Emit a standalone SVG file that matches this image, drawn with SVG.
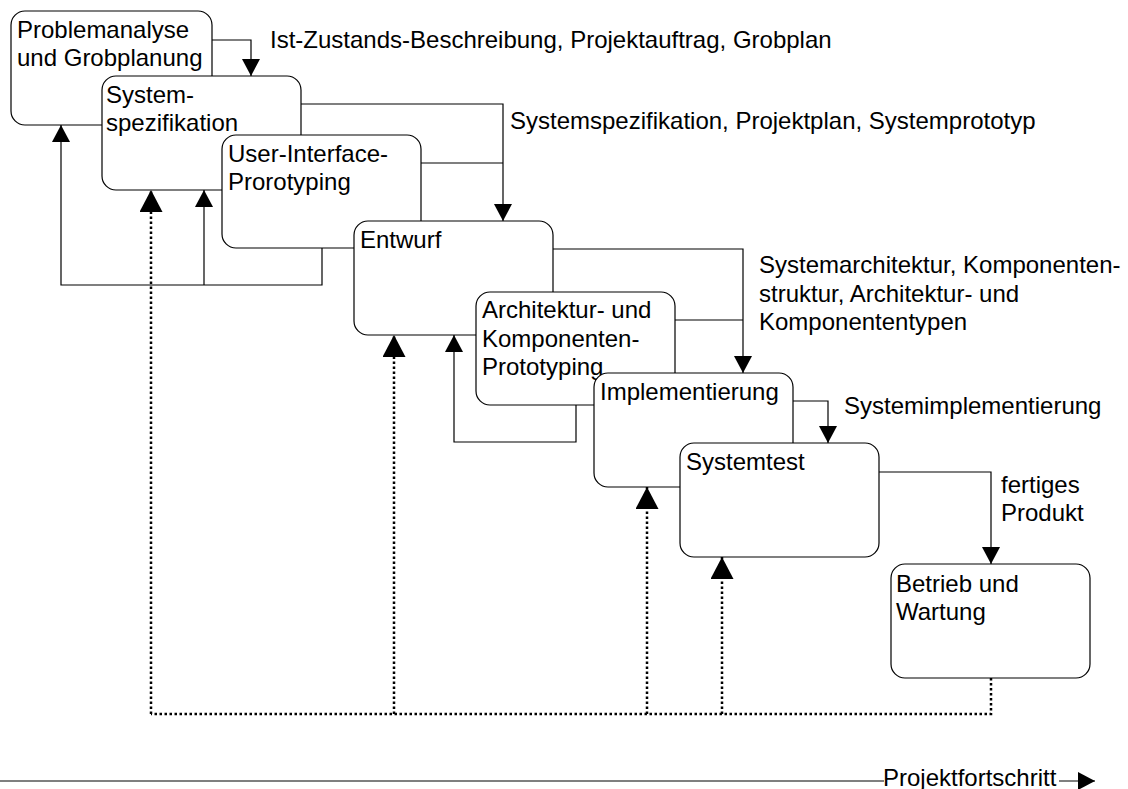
<svg xmlns="http://www.w3.org/2000/svg" width="1128" height="789" viewBox="0 0 1128 789">
<style>
.box{fill:#fff;stroke:#000;stroke-width:1.2}
text{font-family:"Liberation Sans",Arial,sans-serif;font-size:24px;fill:#000}
.ln{fill:none;stroke:#000;stroke-width:1.2}
.dot{fill:none;stroke:#000;stroke-width:2.5;stroke-dasharray:2.5 2.5}
</style>
<defs>
<marker id="arr" markerUnits="userSpaceOnUse" markerWidth="17" markerHeight="18" refX="17" refY="9" orient="auto" viewBox="0 0 17 18">
<path d="M0,0 L17,9 L0,18 Z" fill="#000"/>
</marker>
<marker id="arrBig" markerUnits="userSpaceOnUse" markerWidth="22" markerHeight="23" refX="22" refY="11.5" orient="auto" viewBox="0 0 22 23">
<path d="M0,0 L22,11.5 L0,23 Z" fill="#000"/>
</marker>
</defs>
<rect width="1128" height="789" fill="#fff"/>
<g id="n1"><rect class="box" x="11" y="11" width="201" height="114" rx="14"/><text x="17" y="38">Problemanalyse</text><text x="17" y="66">und Grobplanung</text></g>
<g id="n2"><rect class="box" x="102" y="76" width="199" height="114" rx="14"/><text x="106" y="103">System-</text><text x="106" y="131">spezifikation</text></g>
<g id="n3"><rect class="box" x="222" y="135" width="199" height="113" rx="14"/><text x="228" y="162">User-Interface-</text><text x="228" y="190">Prorotyping</text></g>
<g id="n4"><rect class="box" x="354" y="221" width="199" height="114" rx="14"/><text x="360" y="248">Entwurf</text></g>
<g id="n5"><rect class="box" x="476" y="292" width="199" height="113" rx="14"/><text x="482" y="318">Architektur- und</text><text x="482" y="347">Komponenten-</text><text x="482" y="375">Prototyping</text></g>
<g id="n6"><rect class="box" x="594" y="373" width="199" height="114" rx="14"/><text x="600" y="400">Implementierung</text></g>
<g id="n7"><rect class="box" x="680" y="443" width="199" height="114" rx="14"/><text x="686" y="470">Systemtest</text></g>
<g id="n8"><rect class="box" x="891" y="564" width="199" height="114" rx="14"/><text x="896" y="592">Betrieb und</text><text x="896" y="620">Wartung</text></g>
<g id="connectors">
<path class="ln" d="M212,40 H251 V76" marker-end="url(#arr)"/>
<path class="ln" d="M301,104 H503 V221" marker-end="url(#arr)"/>
<path class="ln" d="M421,163 H503"/>
<path class="ln" d="M553,249 H743 V373" marker-end="url(#arr)"/>
<path class="ln" d="M675,320 H743"/>
<path class="ln" d="M793,401 H828 V443" marker-end="url(#arr)"/>
<path class="ln" d="M879,472 H991 V564" marker-end="url(#arr)"/>
<path class="ln" d="M322,248 V285 H61 V125" marker-end="url(#arr)"/>
<path class="ln" d="M204,285 V190" marker-end="url(#arr)"/>
<path class="ln" d="M576,405 V442 H454 V335" marker-end="url(#arr)"/>
<path class="dot" d="M991,678 V714 H151"/>
<path class="dot" d="M151,714 V190" marker-end="url(#arrBig)"/>
<path class="dot" d="M394,714 V335" marker-end="url(#arrBig)"/>
<path class="dot" d="M647,714 V487" marker-end="url(#arrBig)"/>
<path class="dot" d="M722,714 V557" marker-end="url(#arrBig)"/>
<path class="ln" d="M0,781 H884"/>
<path class="ln" d="M1059,781 H1095" marker-end="url(#arr)"/>
</g>
<g id="labels">
<text x="270" y="48">Ist-Zustands-Beschreibung, Projektauftrag, Grobplan</text>
<text x="510" y="129">Systemspezifikation, Projektplan, Systemprototyp</text>
<text x="759" y="273">Systemarchitektur, Komponenten-</text>
<text x="759" y="302">struktur, Architektur- und</text>
<text x="759" y="330">Komponententypen</text>
<text x="844" y="414">Systemimplementierung</text>
<text x="1001" y="493">fertiges</text>
<text x="1001" y="521">Produkt</text>
<text x="883" y="786">Projektfortschritt</text>
</g>
</svg>
